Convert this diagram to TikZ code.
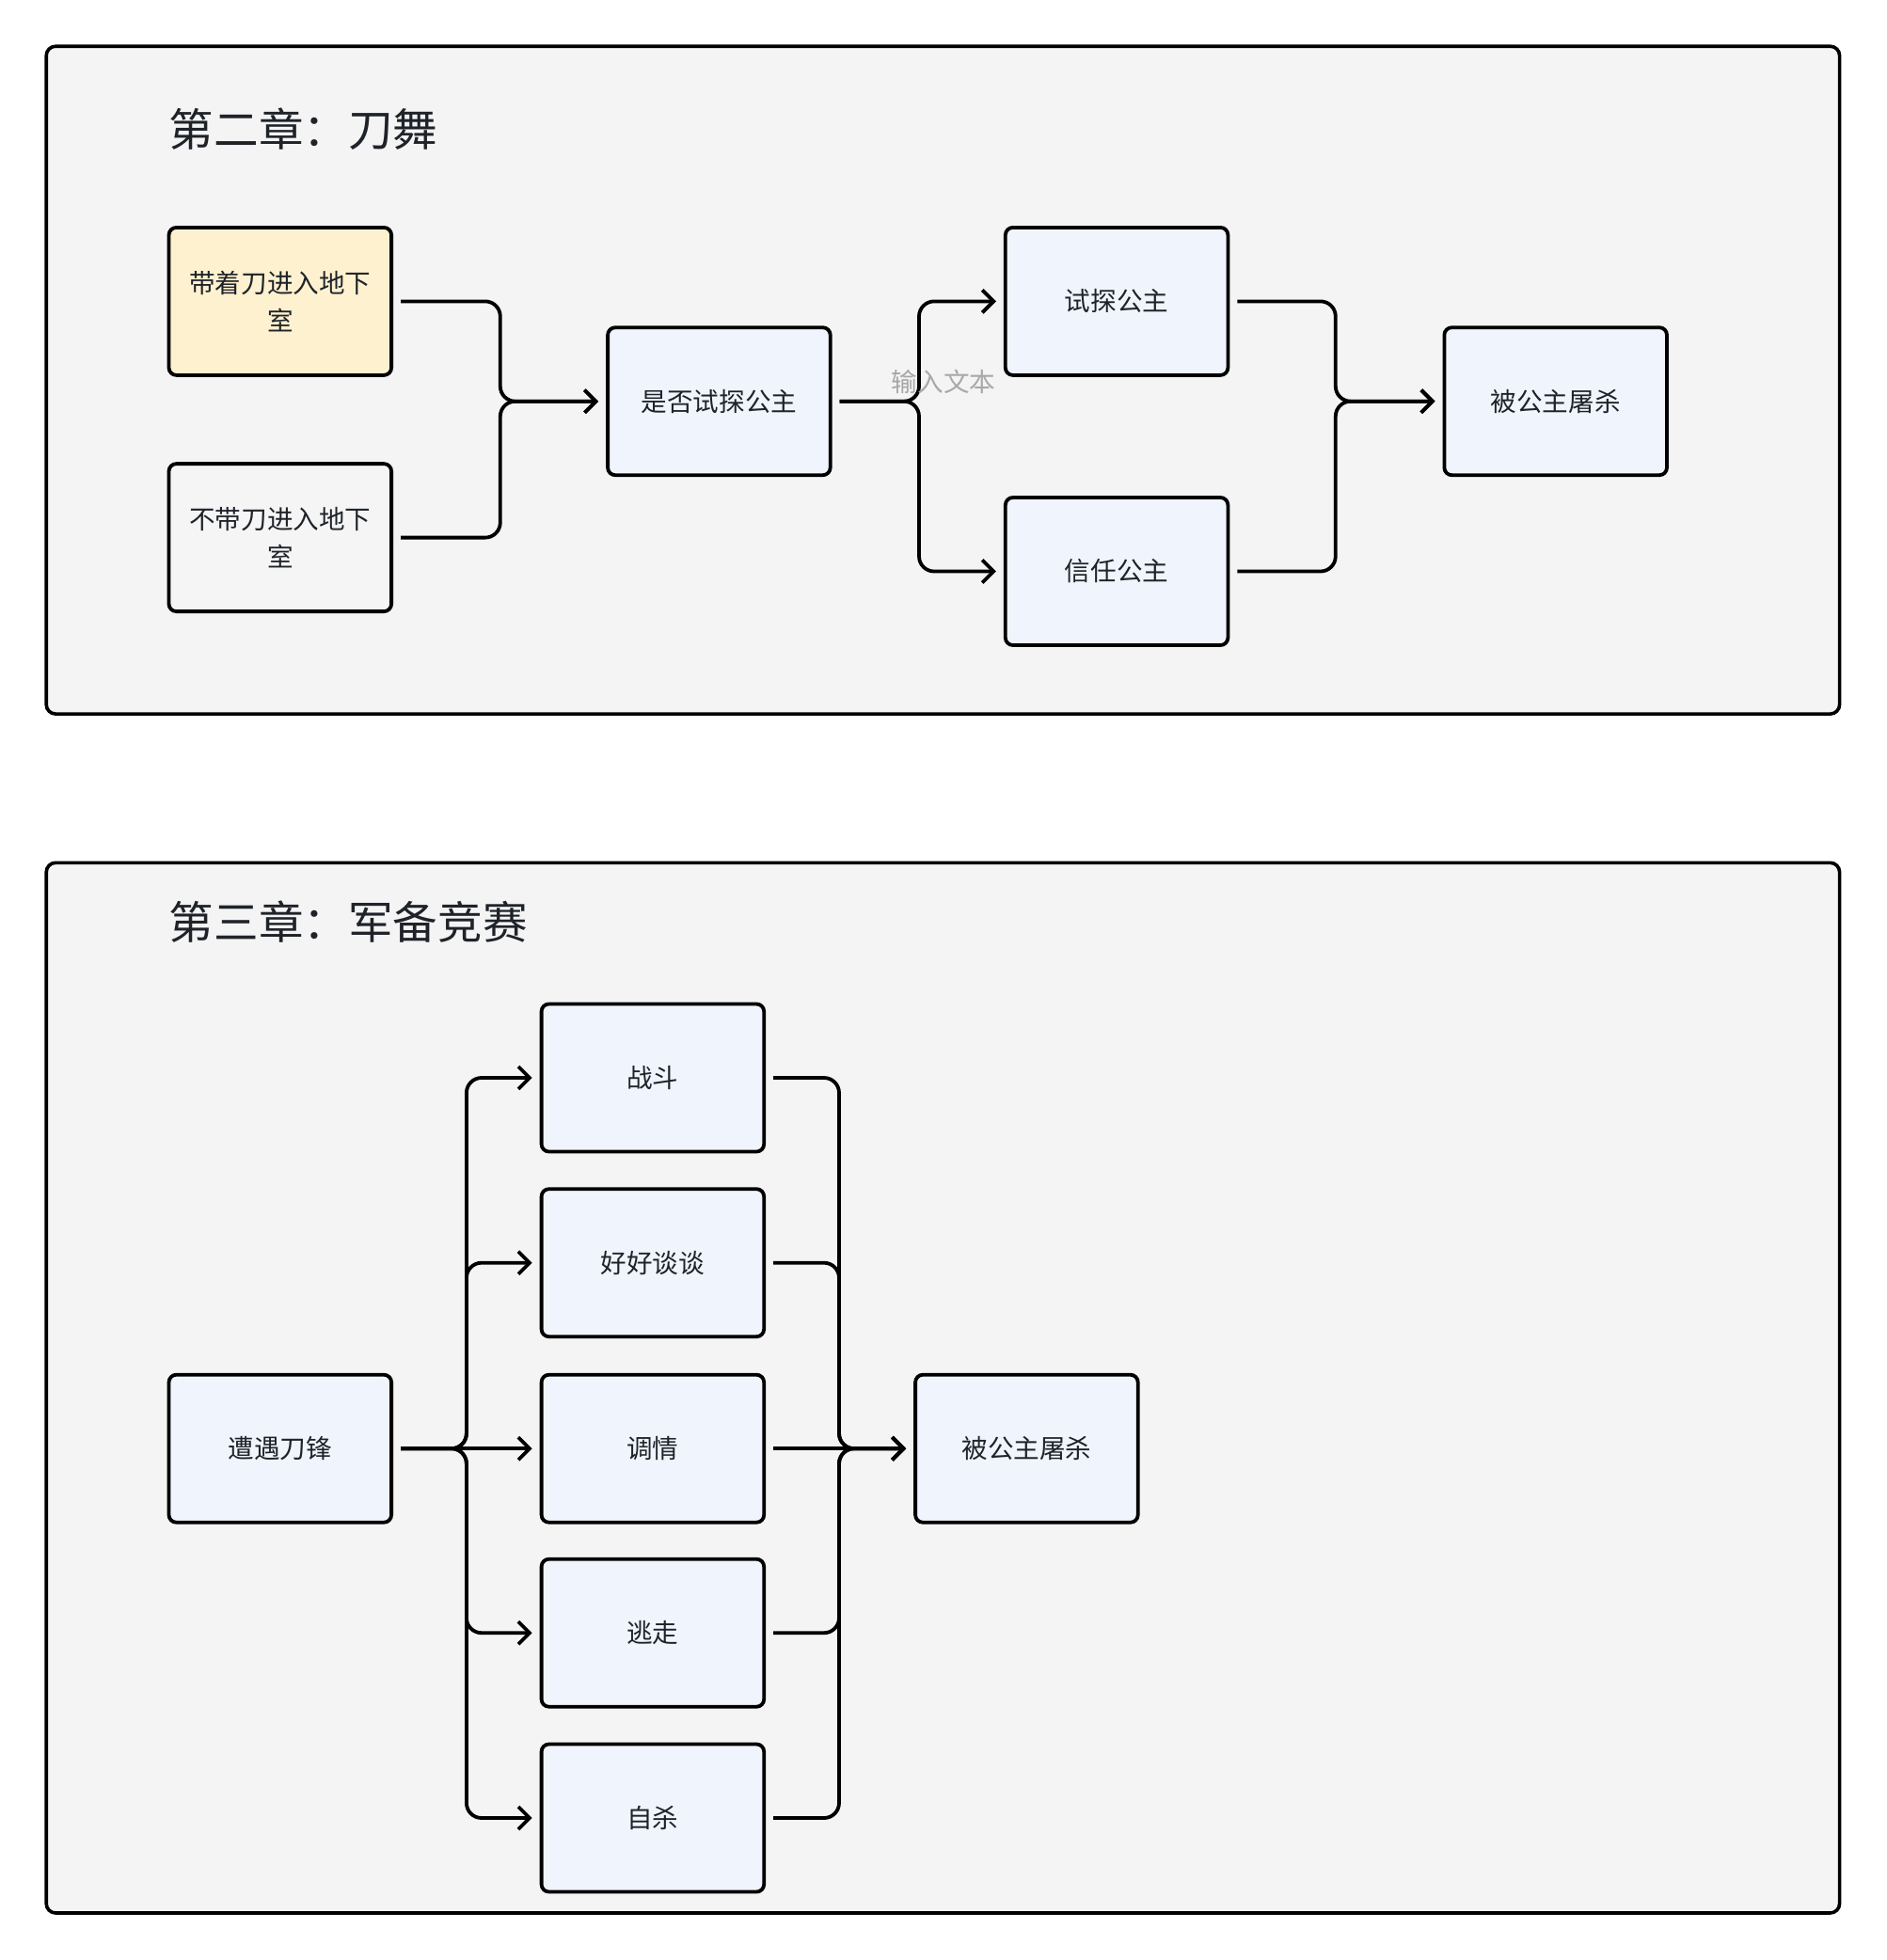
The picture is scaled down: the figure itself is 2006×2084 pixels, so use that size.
\documentclass[tikz,border=0pt]{standalone}
\usepackage{fontspec}
\setmainfont{Noto Sans CJK SC}
\usetikzlibrary{arrows.meta,calc}
\definecolor{framebg}{HTML}{F4F4F4}
\definecolor{boxbg}{HTML}{F0F4FC}
\definecolor{yellowbg}{HTML}{FEF1CF}
\definecolor{greybox}{HTML}{F5F5F5}
\definecolor{txt}{HTML}{1F2329}
\definecolor{hint}{HTML}{A8A8A8}
\tikzset{
  frame/.style={draw=black, line width=1.8pt, fill=framebg, rounded corners=5pt},
  title/.style={anchor=west, text=txt, inner sep=0pt, font=\fontsize{23.8}{28}\selectfont},
  stepbox/.style={draw=black, line width=1.9pt, fill=boxbg, rounded corners=4pt,
    minimum width=118.3pt, minimum height=78.5pt, inner sep=0pt, align=center,
    text=txt, font=\fontsize{13.8}{20}\selectfont},
  conn/.style={draw=black, line width=1.9pt, rounded corners=8pt},
  arr/.style={conn, -{Straight Barb[length=6pt,width=12pt]}},
  hinttext/.style={text=hint, inner sep=0pt, font=\fontsize{13.8}{18}\selectfont}
}
\begin{document}
\begin{tikzpicture}[x=0.5pt,y=-0.5pt]
\useasboundingbox (0,0) rectangle (2006,2084);
% frames
\path[frame] (49.2,49.2) rectangle (1955.6,759.1);
\path[frame] (49.2,917.3) rectangle (1955.6,2034);
\node[title] (t2) at (179.5,137) {第二章：刀舞};
\node[title] (t3) at (179.5,980) {第三章：军备竞赛};
% chapter 2
\node[stepbox, fill=yellowbg] (A) at (297.8,320.4) {带着刀进入地下\\室};
\node[stepbox, fill=greybox] (B) at (297.8,571.6) {不带刀进入地下\\室};
\node[stepbox] (C) at (764.4,426.7) {是否试探公主};
\node[stepbox] (D) at (1187.1,320.4) {试探公主};
\node[stepbox] (E) at (1187.1,607.5) {信任公主};
\node[stepbox] (F) at (1653.7,426.7) {被公主屠杀};
\coordinate (j1) at (531.8,426.7);
\coordinate (j2) at (977,426.7);
\coordinate (j5) at (1419.8,426.7);
\draw[arr] ($(A.east)+(8,0)$) -- (A.east -| j1) -- (j1) -- ($(C.west)+(-8,0)$);
\draw[arr] ($(B.east)+(8,0)$) -- (B.east -| j1) -- (j1) -- ($(C.west)+(-8,0)$);
\draw[arr] ($(C.east)+(8,0)$) -- (j2) -- (j2 |- D.west) -- ($(D.west)+(-8,0)$);
\draw[arr] ($(C.east)+(8,0)$) -- (j2) -- (j2 |- E.west) -- ($(E.west)+(-8,0)$);
\draw[arr] ($(D.east)+(8,0)$) -- (D.east -| j5) -- (j5) -- ($(F.west)+(-8,0)$);
\draw[arr] ($(E.east)+(8,0)$) -- (E.east -| j5) -- (j5) -- ($(F.west)+(-8,0)$);
\node[hinttext] (hint) at (1003,405.5) {输入文本};
% chapter 3
\node[stepbox] (G) at (297.8,1540.2) {遭遇刀锋};
\node[stepbox] (H1) at (693.9,1146) {战斗};
\node[stepbox] (H2) at (693.9,1342.7) {好好谈谈};
\node[stepbox] (H3) at (693.9,1540.2) {调情};
\node[stepbox] (H4) at (693.9,1736.2) {逃走};
\node[stepbox] (H5) at (693.9,1933) {自杀};
\node[stepbox] (I) at (1091.4,1540.2) {被公主屠杀};
\coordinate (j3) at (495.9,1540.2);
\coordinate (j4) at (892,1540.2);
\foreach \h in {H1,H2,H4,H5}{
  \draw[arr] ($(G.east)+(8,0)$) -- (j3) -- (j3 |- \h.west) -- ($(\h.west)+(-8,0)$);
  \draw[arr] ($(\h.east)+(8,0)$) -- (\h.east -| j4) -- (j4) -- ($(I.west)+(-8,0)$);
}
\draw[arr] ($(G.east)+(8,0)$) -- ($(H3.west)+(-8,0)$);
\draw[arr] ($(H3.east)+(8,0)$) -- ($(I.west)+(-8,0)$);
\end{tikzpicture}
\end{document}
